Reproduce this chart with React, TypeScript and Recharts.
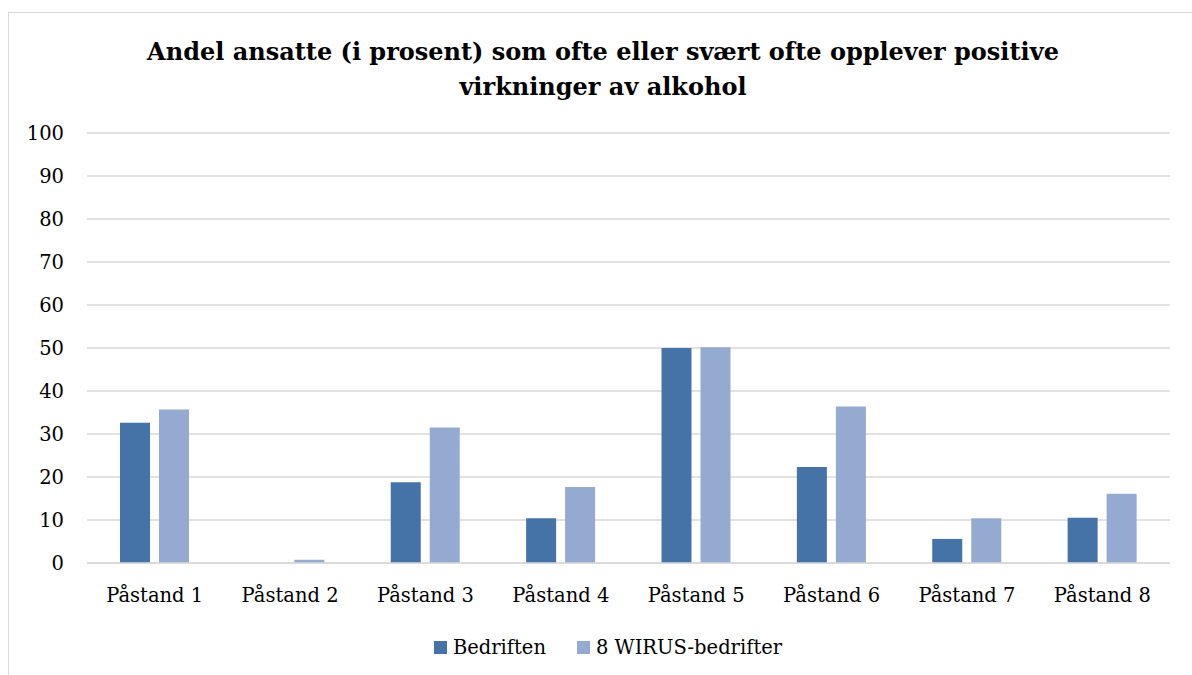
import React from "react";
import { BarChart, Bar, XAxis, YAxis, CartesianGrid } from "recharts";

const categories = ["Påstand 1", "Påstand 2", "Påstand 3", "Påstand 4", "Påstand 5", "Påstand 6", "Påstand 7", "Påstand 8"];
const bedriften = [32.6, 0, 18.8, 10.4, 50.0, 22.3, 5.6, 10.5];
const wirus = [35.7, 0.75, 31.5, 17.7, 50.2, 36.4, 10.4, 16.1];
const yTicks = [0, 10, 20, 30, 40, 50, 60, 70, 80, 90, 100];
const seriesNames = ["Bedriften", "8 WIRUS-bedrifter"];
const titleLines = [
  "Andel ansatte (i prosent) som ofte eller svært ofte opplever positive",
  "virkninger av alkohol",
];

const COLORS = ["#4673A7", "#95AAD1"];
const FONT = "'DejaVu Serif', 'Liberation Serif', serif";

const data = categories.map((c, i) => ({ name: c, a: bedriften[i], b: wirus[i] }));

export default function App() {
  return (
    <div style={{ position: "absolute", left: 0, top: 0, width: 1192, height: 675, overflow: "hidden", background: "#fff", fontFamily: FONT }}>
      <div style={{ position: "absolute", left: 8, top: 12, width: 1300, height: 800, borderTop: "1px solid #d9d9d9", borderLeft: "1px solid #d9d9d9" }} />
      <div style={{ position: "absolute", left: 0, top: 0, width: 1192, height: 675 }}>
        <BarChart
          width={1192}
          height={675}
          data={data}
          margin={{ top: 133, right: 22, left: 0, bottom: 0 }}
          barGap={9}
        >
          <CartesianGrid vertical={false} stroke="#d9d9d9" strokeWidth={1.5} />
          <XAxis
            dataKey="name"
            height={112}
            axisLine={{ stroke: "#d9d9d9", strokeWidth: 1.5 }}
            tickLine={false}
            tickSize={6}
            tickMargin={19}
            tick={{ fill: "#000", fontSize: 19.5, fontFamily: FONT }}
            interval={0}
          />
          <YAxis
            width={87}
            domain={[0, 100]}
            ticks={yTicks}
            axisLine={false}
            tickLine={false}
            tickSize={6}
            tickMargin={17}
            tick={{ fill: "#000", fontSize: 19.5, fontFamily: FONT }}
            interval={0}
          />
          <Bar dataKey="a" name={seriesNames[0]} fill={COLORS[0]} barSize={30} isAnimationActive={false} />
          <Bar dataKey="b" name={seriesNames[1]} fill={COLORS[1]} barSize={30} isAnimationActive={false} />
        </BarChart>
      </div>
      <div style={{ position: "absolute", left: 0, top: 34, width: 1206, textAlign: "center", fontWeight: "bold", fontSize: 24, lineHeight: "35px", color: "#000" }}>
        {titleLines.map((l) => (
          <div key={l}>{l}</div>
        ))}
      </div>
      <div style={{ position: "absolute", left: 0, top: 636, width: 1216, display: "flex", justifyContent: "center", alignItems: "center", fontSize: 19.5, color: "#000" }}>
        {seriesNames.map((n, i) => (
          <div key={n} style={{ display: "flex", alignItems: "center", marginLeft: i ? 31 : 0 }}>
            <span style={{ display: "inline-block", width: 13, height: 13, background: COLORS[i], marginRight: 6 }} />
            <span>{n}</span>
          </div>
        ))}
      </div>
    </div>
  );
}
